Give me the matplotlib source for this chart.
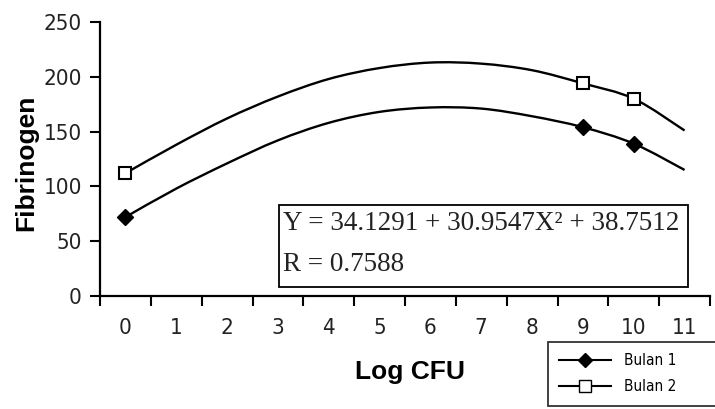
import matplotlib
matplotlib.use("Agg")
import matplotlib.pyplot as plt
from matplotlib.path import Path
from matplotlib.patches import PathPatch, Rectangle
from matplotlib.lines import Line2D

# values
log_cfu = [0, 1, 2, 3, 4, 5, 6, 7, 8, 9, 10, 11]
tick_labels = ["0", "1", "2", "3", "4", "5", "6", "7", "8", "9", "10", "11"]
bulan1_curve = [72, 98, 121, 142, 158, 168, 172, 171, 164, 154, 139, 115]
bulan2_curve = [112, 138, 162, 182, 198, 208, 213, 212, 206, 194, 180, 151]
mark_x = [0, 9, 10]
bulan1_points = [72, 154, 139]
bulan2_points = [112, 194, 180]
y_ticks = [0, 50, 100, 150, 200, 250]
equation = "Y = 34.1291 + 30.9547X² + 38.7512"
r_text = "R = 0.7588"

ink = "#222222"


def smooth_path(xs, ys):
    # Catmull-Rom through the read points, drawn as cubic beziers
    n = len(xs)
    verts = [(xs[0], ys[0])]
    codes = [Path.MOVETO]
    for i in range(n - 1):
        a = max(i - 1, 0)
        d = min(i + 2, n - 1)
        c1 = (xs[i] + (xs[i + 1] - xs[a]) / 6.0, ys[i] + (ys[i + 1] - ys[a]) / 6.0)
        c2 = (xs[i + 1] - (xs[d] - xs[i]) / 6.0, ys[i + 1] - (ys[d] - ys[i]) / 6.0)
        verts += [c1, c2, (xs[i + 1], ys[i + 1])]
        codes += [Path.CURVE4] * 3
    return Path(verts, codes)


fig = plt.figure(figsize=(7.15, 4.09), dpi=100)
ax = fig.add_axes([100 / 715, 1 - 296 / 409, 610 / 715, 274 / 409])

for curve in (bulan1_curve, bulan2_curve):
    ax.add_patch(PathPatch(smooth_path(log_cfu, curve), fill=False,
                           edgecolor="black", lw=1.7, zorder=3))

ax.plot(mark_x, bulan1_points, ls="none", marker="D", ms=8, mfc="black",
        mec="black", zorder=4)
ax.plot(mark_x, bulan2_points, ls="none", marker="s", ms=9, mfc="white",
        mec="black", mew=1.5, zorder=4)

ax.set_xlim(-0.5, 11.5)
ax.set_ylim(0, 250)

tick_font = dict(family="DejaVu Sans", stretch="condensed", fontsize=16, color=ink)

# category style axis: ticks at the borders, labels in the middle
ax.set_xticks([v - 0.5 for v in log_cfu] + [11.5])
ax.set_xticklabels([])
ax.set_xticks(log_cfu, minor=True)
ax.set_xticklabels(tick_labels, minor=True, **tick_font)
ax.tick_params(axis="x", which="major", direction="out", length=7, width=1.5)
ax.tick_params(axis="x", which="minor", length=0, pad=16)

ax.set_yticks(y_ticks)
ax.set_yticklabels([str(v) for v in y_ticks], **tick_font)
ax.tick_params(axis="y", direction="out", length=7, width=1.5, pad=6)

for side in ("top", "right"):
    ax.spines[side].set_visible(False)
for side in ("left", "bottom"):
    ax.spines[side].set_linewidth(1.6)

fig.text(26 / 715, 1 - 163 / 409, "Fibrinogen", rotation=90, ha="center",
         va="center", fontsize=19, fontweight="bold", family="Liberation Sans")
fig.text(410 / 715, 1 - 372 / 409, "Log CFU", ha="center", va="center",
         fontsize=19, fontweight="bold", family="Liberation Sans")

# equation box
ax.add_patch(Rectangle((0.293, 0.033), 0.671, 0.299, transform=ax.transAxes,
                       fill=False, edgecolor="black", lw=1.3, zorder=5))
ax.text(0.300, 0.241, equation, transform=ax.transAxes, family="Liberation Serif",
        fontsize=19.5, color=ink, va="baseline", zorder=6)
ax.text(0.300, 0.091, r_text, transform=ax.transAxes, family="Liberation Serif",
        fontsize=19.5, color=ink, va="baseline", zorder=6)

handles = [
    Line2D([], [], color="black", lw=1.5, marker="D", ms=7, mfc="black", mec="black"),
    Line2D([], [], color="black", lw=1.5, marker="s", ms=8, mfc="white", mec="black"),
]
leg = fig.legend(handles, ["Bulan 1", "Bulan 2"], loc="upper left",
                 bbox_to_anchor=(548 / 715, 1 - 407 / 409, 175 / 715, 65 / 409),
                 mode="expand", borderaxespad=0, frameon=True, fancybox=False,
                 edgecolor="black", handlelength=3.4, borderpad=0.75,
                 labelspacing=0.7,
                 prop={"family": "DejaVu Sans", "stretch": "condensed", "size": 11})
leg.get_frame().set_linewidth(1.3)

fig.savefig("out.png", dpi=100)
